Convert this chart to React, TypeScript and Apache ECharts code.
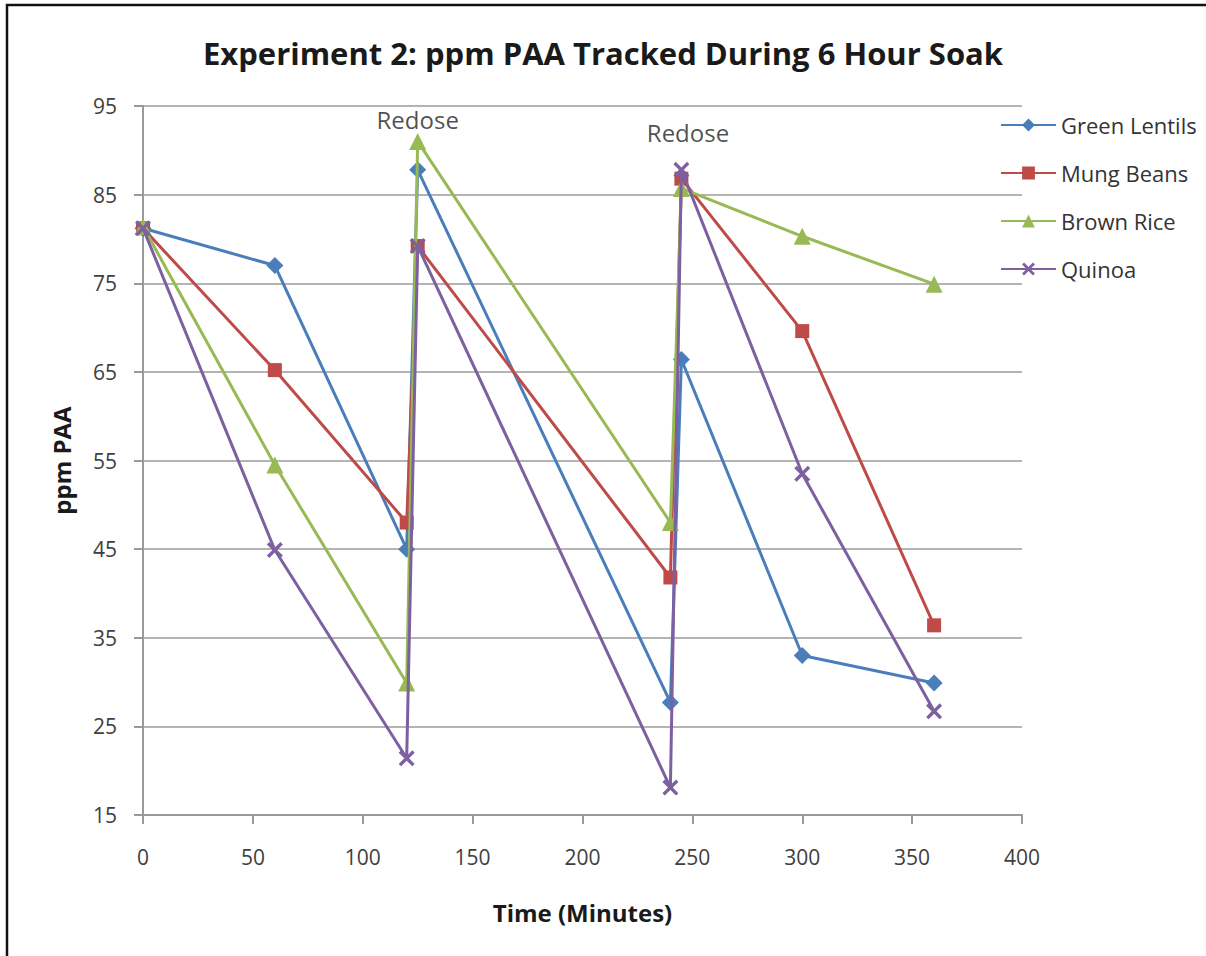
import React, { useEffect, useRef } from "react";
import * as echarts from "echarts";

const title = "Experiment 2: ppm PAA Tracked During 6 Hour Soak";
const xName = "Time (Minutes)";
const yName = "ppm PAA";

const times = [0, 60, 120, 125, 240, 245, 300, 360];
const greenLentils = [81.2, 77.0, 45.0, 87.8, 27.7, 66.4, 33.0, 29.9];
const mungBeans = [81.2, 65.2, 48.0, 79.2, 41.8, 86.8, 69.6, 36.4];
const brownRice = [81.4, 54.5, 29.9, 91.0, 48.0, 85.7, 80.3, 74.9];
const quinoa = [81.2, 44.9, 21.4, 79.2, 18.1, 87.8, 53.5, 26.7];

const seriesNames = ["Green Lentils", "Mung Beans", "Brown Rice", "Quinoa"];
const seriesColors = ["#4a7ebb", "#be4b48", "#98b954", "#7d60a0"];

const redoseLabels = ["Redose", "Redose"];
const redoseX = [125, 248];
const redoseY = [93.5, 92.0];

const xMin = 0, xMax = 400, xInterval = 50;
const yMin = 15, yMax = 95, yInterval = 10;

const FONT = "'Open Sans', sans-serif";
const xSymbol =
  "path://M0,1.5 L1.5,0 L5,3.5 L8.5,0 L10,1.5 L6.5,5 L10,8.5 L8.5,10 L5,6.5 L1.5,10 L0,8.5 L3.5,5 Z";

export default function App() {
  const ref = useRef<HTMLDivElement>(null);
  useEffect(() => {
    if (!ref.current) return;
    const chart = echarts.init(ref.current, null, { renderer: "svg" });
    const allData = [greenLentils, mungBeans, brownRice, quinoa];
    const symbols = ["diamond", "rect", "triangle", xSymbol];
    const sizes = [17, 14, 17, 16];
    const series: any[] = allData.map((vals, i) => ({
      name: seriesNames[i],
      type: "line",
      data: times.map((t, j) => [t, vals[j]]),
      symbol: symbols[i],
      symbolSize: sizes[i],
      showAllSymbol: true,
      lineStyle: { color: seriesColors[i], width: 3 },
      itemStyle: { color: seriesColors[i] },
      z: 3 + i,
    }));
    series.push({
      name: "annotations",
      type: "scatter",
      data: redoseX.map((x, i) => ({ value: [x, redoseY[i]], label: { formatter: redoseLabels[i] } })),
      symbolSize: 1,
      itemStyle: { color: "rgba(0,0,0,0)" },
      silent: true,
      label: {
        show: true,
        position: "inside",
        color: "#1f1f1f",
        fontSize: 24,
        fontFamily: FONT,
      },
      z: 10,
    });
    chart.setOption({
      animation: false,
      backgroundColor: "#fff",
      title: {
        text: title,
        left: "center",
        top: 32,
        textStyle: { fontFamily: FONT, fontSize: 31, fontWeight: "bold", color: "#1a1a1a" },
      },
      legend: {
        data: seriesNames,
        orient: "vertical",
        left: 995,
        top: 109,
        itemWidth: 55,
        itemHeight: 16,
        itemGap: 26,
        textStyle: { fontFamily: FONT, fontSize: 22, color: "#333" },
      },
      grid: { left: 143, right: 184, top: 106, bottom: 141, containLabel: false },
      xAxis: {
        type: "value",
        min: xMin,
        max: xMax,
        interval: xInterval,
        name: xName,
        nameLocation: "middle",
        nameGap: 85,
        nameTextStyle: { fontFamily: FONT, fontSize: 24, fontWeight: "bold", color: "#1a1a1a" },
        axisLine: { show: true, lineStyle: { color: "#9a9a9a", width: 2 } },
        axisTick: { show: true, length: 9, lineStyle: { color: "#9a9a9a", width: 2 } },
        axisLabel: { margin: 31, fontFamily: FONT, fontSize: 21, color: "#404040" },
        splitLine: { show: false },
      },
      yAxis: {
        type: "value",
        min: yMin,
        max: yMax,
        interval: yInterval,
        name: yName,
        nameLocation: "middle",
        nameGap: 70,
        nameTextStyle: { fontFamily: FONT, fontSize: 24, fontWeight: "bold", color: "#1a1a1a" },
        axisLine: { show: true, lineStyle: { color: "#9a9a9a", width: 2 } },
        axisTick: { show: true, length: 9, lineStyle: { color: "#9a9a9a", width: 2 } },
        axisLabel: { margin: 26, fontFamily: FONT, fontSize: 21, color: "#404040" },
        splitLine: { show: true, lineStyle: { color: "#b4b4b4", width: 2 } },
      },
      graphic: [
        {
          type: "polyline",
          shape: { points: [[7, 956], [7, 5], [1206, 5]] },
          style: { stroke: "#111", lineWidth: 2.5, fill: null },
          silent: true,
        },
      ],
      series,
    });
    return () => chart.dispose();
  }, []);
  return (
    <div
      ref={ref}
      style={{ position: "absolute", left: 0, top: 0, width: 1206, height: 956 }}
    />
  );
}
